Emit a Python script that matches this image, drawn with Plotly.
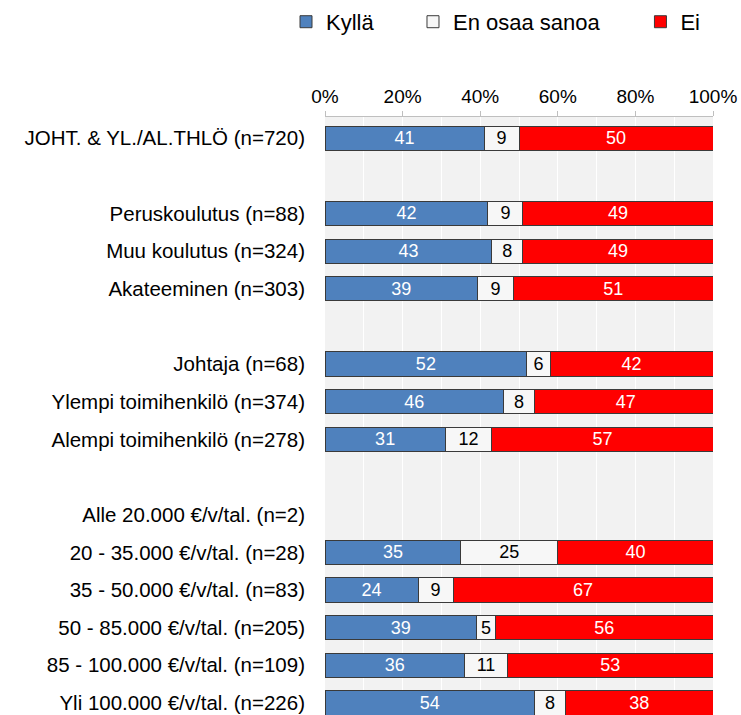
import plotly.graph_objects as go

categories = [
    "JOHT. & YL./AL.THLÖ (n=720)",
    " ",
    "Peruskoulutus (n=88)",
    "Muu koulutus (n=324)",
    "Akateeminen (n=303)",
    "  ",
    "Johtaja (n=68)",
    "Ylempi toimihenkilö (n=374)",
    "Alempi toimihenkilö (n=278)",
    "   ",
    "Alle 20.000 €/v/tal. (n=2)",
    "20 - 35.000 €/v/tal. (n=28)",
    "35 - 50.000 €/v/tal. (n=83)",
    "50 - 85.000 €/v/tal. (n=205)",
    "85 - 100.000 €/v/tal. (n=109)",
    "Yli 100.000 €/v/tal. (n=226)",
]
# percentages (bar labels show them rounded to whole numbers)
kylla = [41, None, 42, 43, 39.3, None, 52, 46, 31, None, None, 35, 24, 39, 36, 54]
en_osaa = [9, None, 9, 8, 9.3, None, 6, 8, 12, None, None, 25, 9, 5, 11, 8]
ei = [50, None, 49, 49, 51.4, None, 42, 47, 57, None, None, 40, 67, 56, 53, 38]

series = [
    ("Kyllä", kylla, "#4f81bd", "white", "legend", -0.1005),
    ("En osaa sanoa", en_osaa, "#f7f7f7", "black", "legend2", 0.2268),
    ("Ei", ei, "#ff0000", "white", "legend3", 0.813),
]

FONT = "Liberation Sans, Arial"

fig = go.Figure()
for name, vals, color, tcolor, leg, _ in series:
    fig.add_trace(go.Bar(
        y=categories, x=vals, name=name, orientation="h",
        marker=dict(color=color, line=dict(color="#3a3a3a", width=1)),
        texttemplate="%{x:.0f}",
        textposition="inside", insidetextanchor="middle",
        textangle=0, constraintext="none",
        textfont=dict(color=tcolor, size=18, family=FONT),
        legend=leg, width=0.64, hoverinfo="skip",
    ))

legend_common = dict(orientation="h", yanchor="middle", y=1.159, xanchor="left",
                     font=dict(size=22, family=FONT, color="black"),
                     bgcolor="rgba(0,0,0,0)", itemwidth=30, tracegroupgap=0)
layout_legends = {}
for name, vals, color, tcolor, leg, lx in series:
    layout_legends[leg] = dict(legend_common, x=lx)

fig.update_layout(
    barmode="stack",
    width=741, height=715,
    margin=dict(l=325, r=28, t=117, b=0),
    plot_bgcolor="#f2f2f2",
    paper_bgcolor="white",
    font=dict(family=FONT, color="black"),
    showlegend=True,
    **layout_legends,
)
fig.update_xaxes(
    range=[0, 100], side="top",
    tickvals=[0, 20, 40, 60, 80, 100],
    ticktext=["0%", "20%", "40%", "60%", "80%", "100%"],
    tickfont=dict(size=19, family=FONT, color="black"),
    ticks="outside", ticklen=5, tickcolor="#bfbfbf",
    showline=True, linecolor="#bfbfbf", linewidth=1,
    showgrid=False,
    minor=dict(dtick=10, tick0=0, showgrid=True, gridcolor="white", gridwidth=1),
    zeroline=False, fixedrange=True,
)
fig.update_yaxes(
    categoryorder="array", categoryarray=categories,
    range=[15.32, -0.56],
    tickfont=dict(size=20.5, family=FONT, color="black"),
    ticks="", ticklabelstandoff=19,
    showgrid=False, zeroline=False, showline=False, fixedrange=True,
)

fig.write_html(
    "out.html",
    config={"displayModeBar": False, "staticPlot": True},
    post_script="document.body.style.margin='0';document.body.style.overflow='hidden';",
)
